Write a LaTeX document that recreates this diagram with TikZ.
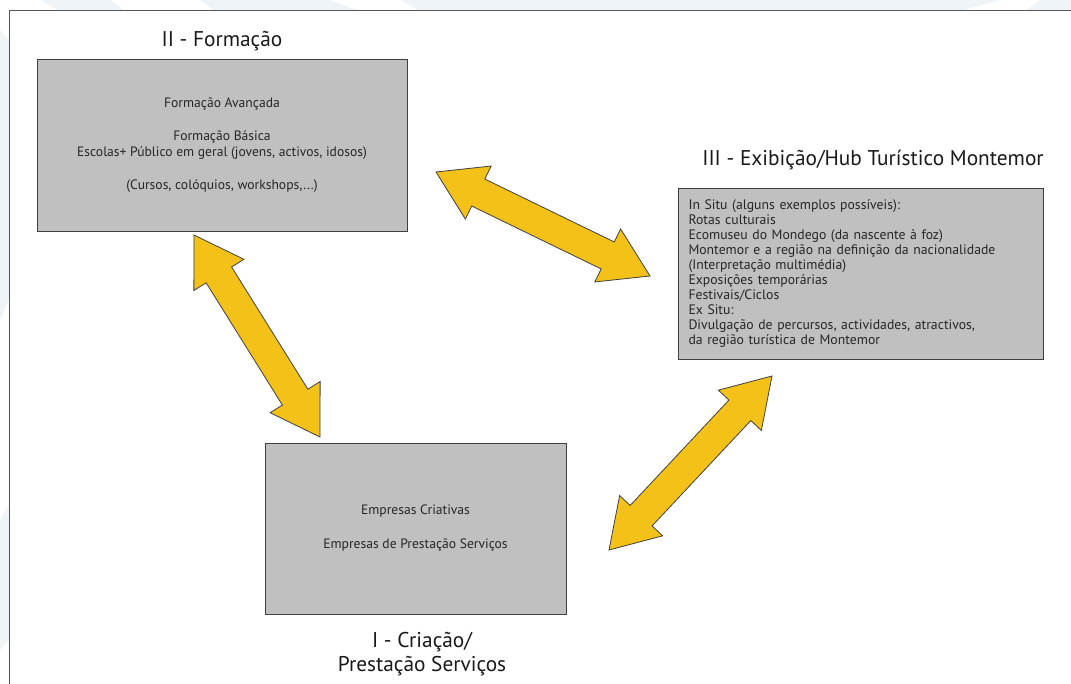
\documentclass[tikz,border=0pt]{standalone}
\usepackage{fontspec}
\setmainfont{PT Sans}
\usetikzlibrary{calc,positioning}

\definecolor{boxgray}{RGB}{192,192,192}
\definecolor{edgegray}{RGB}{64,64,64}
\definecolor{arrowyellow}{RGB}{243,193,24}
\definecolor{framegray}{RGB}{85,85,85}
\definecolor{wmblue}{RGB}{238,244,247}

\tikzset{
  areabox/.style={draw=edgegray, fill=boxgray, line width=0.6pt, inner sep=0pt,
    text=black!85, font=\fontsize{10.2}{12}\selectfont},
  areatitle/.style={text=black!90, font=\fontsize{16}{18}\selectfont, align=center},
  arrowshape/.style={draw=edgegray, fill=arrowyellow, line width=0.6pt, line join=miter}
}

% double block arrow between two named points
\newcommand{\dblarrow}[2]{%
  \draw[arrowshape] let \p1=($(#2)-(#1)$), \n1={atan2(\y1,\x1)},
      \n2={veclen(\x1,\y1)-35.25} in
    (#1) -- ($(#1)+(\n1:35.25pt)+(\n1+90:22.1pt)$)
    -- ($(#1)+(\n1:35.25pt)+(\n1+90:11.25pt)$)
    -- ($(#1)+(\n1:\n2)+(\n1+90:11.25pt)$)
    -- ($(#1)+(\n1:\n2)+(\n1+90:22.1pt)$)
    -- (#2)
    -- ($(#1)+(\n1:\n2)+(\n1-90:22.1pt)$)
    -- ($(#1)+(\n1:\n2)+(\n1-90:11.25pt)$)
    -- ($(#1)+(\n1:35.25pt)+(\n1-90:11.25pt)$)
    -- ($(#1)+(\n1:35.25pt)+(\n1-90:22.1pt)$)
    -- cycle;}

\begin{document}
\begin{tikzpicture}[x=0.75pt,y=-0.75pt]
  \useasboundingbox (0,0) rectangle (1071,684);

  % faint background marks outside the frame
  \fill[wmblue] (40,0) -- (110,0) -- (125,11) -- (60,11) -- cycle;
  \fill[wmblue] (200,0) -- (330,0) -- (360,11) -- (215,11) -- cycle;
  \fill[wmblue] (400,0) -- (1000,0) -- (960,11) -- (420,11) -- cycle;
  \fill[wmblue] (1040,0) -- (1071,0) -- (1071,11) -- (1025,11) -- cycle;
  \fill[wmblue] (0,30) -- (9,40) -- (9,300) -- (0,320) -- cycle;
  \fill[wmblue] (0,520) -- (9,505) -- (9,640) -- (0,650) -- cycle;

  % frame
  \draw[framegray, line width=0.75pt] (9,684) -- (9,11) -- (1071,11);

  % II - Formacao
  \node[areabox, minimum width=277.5pt, minimum height=129pt, align=center] (form) at (222,145)
    {Formação Avançada\\[12.5pt]
     Formação Básica\\
     Escolas+ Público em geral (jovens, activos, idosos)\\[12.5pt]
     (Cursos, colóquios, workshops,...)};
  \node[areatitle] (formtitle) at (222,41) {II - Formação};

  % III - Exibicao
  \node[areabox, minimum width=273.75pt, minimum height=128.25pt, text width=258pt,
        align=left, font=\fontsize{10.3}{11.3}\selectfont] (exib) at (860.5,273.5)
    {In Situ (alguns exemplos possíveis):\\
     Rotas culturais\\
     Ecomuseu do Mondego (da nascente à foz)\\
     Montemor e a região na definição da nacionalidade\\
     (Interpretação multimédia)\\
     Exposições temporárias\\
     Festivais/Ciclos\\
     Ex Situ:\\
     Divulgação de percursos, actividades, atractivos,\\
     da região turística de Montemor};
  \node[areatitle] (exibtitle) at (873,160) {III - Exibição/Hub Turístico Montemor};

  % I - Criacao
  \node[areabox, minimum width=225.75pt, minimum height=128.25pt, align=center] (cria) at (415.5,528.5)
    {Empresas Criativas\\[13.5pt]
     Empresas de Prestação Serviços};
  \node[areatitle, align=center] (criatitle) at (422,654)
    {I - Criação/\\Prestação Serviços};

  % arrows between the areas
  \coordinate (fc1) at (194,235);
  \coordinate (fc2) at (320,437);
  \coordinate (fe1) at (436,172);
  \coordinate (fe2) at (650,276);
  \coordinate (ec1) at (772,376);
  \coordinate (ec2) at (609,550);
  \dblarrow{fc1}{fc2}
  \dblarrow{fe1}{fe2}
  \dblarrow{ec1}{ec2}
\end{tikzpicture}
\end{document}
